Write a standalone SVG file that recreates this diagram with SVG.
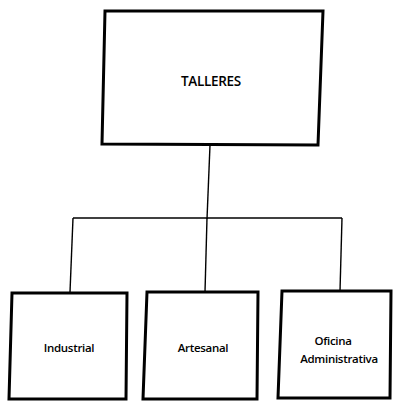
<svg xmlns="http://www.w3.org/2000/svg" width="395" height="402" viewBox="0 0 395 402">
<style>
.box{fill:#fff;stroke:#000;stroke-width:3;stroke-linejoin:miter}
.conn{fill:none;stroke:#000;stroke-width:1.4}
.lbl{font-family:"Open Sans","Liberation Sans",sans-serif;font-weight:600;fill:#000;text-anchor:middle;letter-spacing:-0.3px}
</style>
<rect width="395" height="402" fill="#fff"/>
<g id="connectors">
<path class="conn" d="M210,145 L207,219"/>
<path class="conn" d="M73,218 L342,218"/>
<path class="conn" d="M73,218 L70,292"/>
<path class="conn" d="M207,218 L205,292"/>
<path class="conn" d="M342,218 L340,291"/>
</g>
<g id="talleres">
<polygon class="box" points="105,11 323,11 318,145 102,144"/>
<text class="lbl" x="211" y="86" font-size="13.5">TALLERES</text>
</g>
<g id="industrial">
<polygon class="box" points="12,293 127,293 126,399 9,399"/>
<text class="lbl" x="69" y="352" font-size="11.5">Industrial</text>
</g>
<g id="artesanal">
<polygon class="box" points="147,292 258,292 257,399 143,399"/>
<text class="lbl" x="203" y="352" font-size="11.5">Artesanal</text>
</g>
<g id="oficina">
<polygon class="box" points="282,291 391,291 390,398 278,398"/>
<text class="lbl" x="333" y="345" font-size="11.5">Oficina</text>
<text class="lbl" x="339" y="363" font-size="11.5">Administrativa</text>
</g>
</svg>
